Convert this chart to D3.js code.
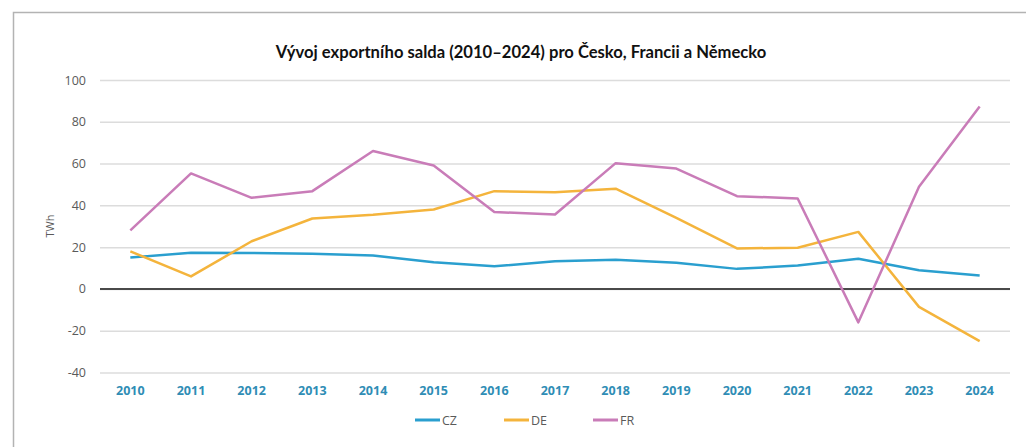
<!DOCTYPE html>
<html>
<head>
<meta charset="utf-8">
<script src="https://cdn.jsdelivr.net/npm/d3@7"></script>
<style>
  body { margin: 0; background: #fff; }
  svg { display: block; }
</style>
</head>
<body>
<svg id="chart" width="1026" height="447"></svg>
<script>
// data
var years = ["2010", "2011", "2012", "2013", "2014", "2015", "2016", "2017",
  "2018", "2019", "2020", "2021", "2022", "2023", "2024"];
var cz = [15, 17.3, 17.2, 16.8, 16, 12.8, 10.8, 13.2, 14, 12.5, 9.6, 11.2, 14.4, 8.9, 6.4];
var de = [18, 6, 22.8, 33.7, 35.5, 38, 46.8, 46.3, 48, 34, 19.4, 19.7, 27.3, -8.6, -25];
var fr = [28, 55.3, 43.6, 46.8, 66, 59.1, 36.8, 35.6, 60.2, 57.6, 44.4, 43.3, -16, 48.9, 87.3];
var yTicks = [-40, -20, 0, 20, 40, 60, 80, 100];

var series = [
  { name: "CZ", values: cz, color: "#2a9fcf" },
  { name: "DE", values: de, color: "#f4b43c" },
  { name: "FR", values: fr, color: "#c97cb8" }
];

var margin = { top: 80, right: 16, bottom: 75, left: 100 },
  width = 1010 - margin.left,
  height = 372.5 - margin.top;

var svg = d3.select("#chart");

// outer frame (only left + top visible in the crop)
svg.append("path")
  .attr("d", "M13.5,447 V12.5 H1026")
  .attr("fill", "none")
  .attr("stroke", "#b3b3b3")
  .attr("stroke-width", 1.5);

svg.append("text")
  .attr("x", 521)
  .attr("y", 58)
  .attr("text-anchor", "middle")
  .style("font-family", "Lato, 'Open Sans', sans-serif")
  .style("font-weight", "bold")
  .style("font-size", "16.6px")
  .attr("fill", "#111")
  .text("Vývoj exportního salda (2010–2024) pro Česko, Francii a Německo");

var g = svg.append("g")
  .attr("transform", "translate(" + margin.left + "," + margin.top + ")");

var x = d3.scaleBand().domain(years).range([0, width]);
var y = d3.scaleLinear().domain([-40, 100]).range([height, 0]);

// gridlines + y labels
var yAxis = g.append("g")
  .call(d3.axisLeft(y).tickValues(yTicks).tickSize(-width).tickPadding(14)
    .tickFormat(function (d) { return String(d); }));
yAxis.select(".domain").remove();
yAxis.selectAll(".tick line")
  .attr("stroke", "#dcdcdc")
  .attr("stroke-width", 1.5);
yAxis.selectAll(".tick text")
  .attr("fill", "#5a5a5a")
  .style("font-family", "'Open Sans', sans-serif")
  .style("font-size", "12.5px");

// zero line
g.append("line")
  .attr("x1", 0)
  .attr("x2", width)
  .attr("y1", y(0))
  .attr("y2", y(0))
  .attr("stroke", "#4a4a4a")
  .attr("stroke-width", 2);

// x labels
var xAxis = g.append("g")
  .attr("transform", "translate(0," + height + ")")
  .call(d3.axisBottom(x).tickSize(0).tickPadding(14));
xAxis.select(".domain").remove();
xAxis.selectAll(".tick text")
  .attr("fill", "#2f8db5")
  .style("font-family", "'Open Sans', sans-serif")
  .style("font-weight", "bold")
  .style("font-size", "12.5px");

// y axis title
svg.append("text")
  .attr("transform", "translate(54,226) rotate(-90)")
  .attr("text-anchor", "middle")
  .attr("fill", "#5a5a5a")
  .style("font-family", "'Open Sans', sans-serif")
  .style("font-size", "11px")
  .text("TWh");

var line = d3.line()
  .x(function (d, i) { return x(years[i]) + x.bandwidth() / 2; })
  .y(function (d) { return y(d); });

g.selectAll(".series")
  .data(series)
  .enter()
  .append("path")
  .attr("class", "series")
  .attr("d", function (d) { return line(d.values); })
  .attr("fill", "none")
  .attr("stroke", function (d) { return d.color; })
  .attr("stroke-width", 2.5)
  .attr("stroke-linejoin", "round");

// legend
var legend = svg.append("g")
  .selectAll("g")
  .data(series)
  .enter()
  .append("g")
  .attr("transform", function (d, i) { return "translate(" + (415 + i * 89) + ",420)"; });

legend.append("line")
  .attr("x1", 0)
  .attr("x2", 25)
  .attr("stroke", function (d) { return d.color; })
  .attr("stroke-width", 3);

legend.append("text")
  .attr("x", 27)
  .attr("y", 4.5)
  .attr("fill", "#5a5a5a")
  .style("font-family", "'Open Sans', sans-serif")
  .style("font-size", "12.5px")
  .text(function (d) { return d.name; });
</script>
</body>
</html>
